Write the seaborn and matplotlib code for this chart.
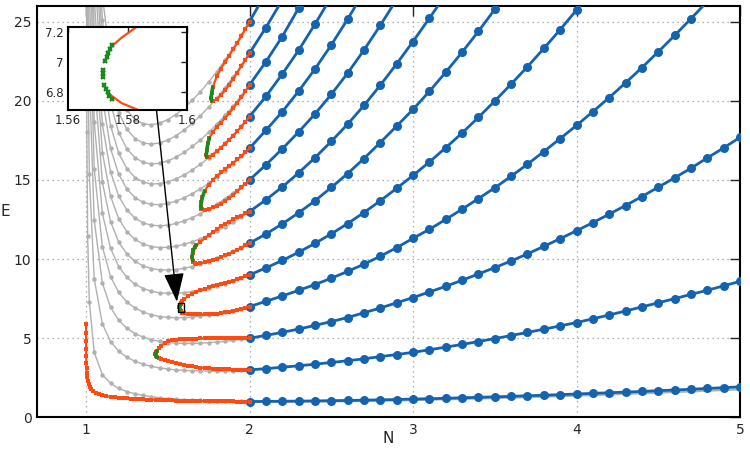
import numpy as np
import pandas as pd
import matplotlib
matplotlib.use("Agg")
import matplotlib.pyplot as plt
import seaborn as sns
from matplotlib.patches import Rectangle

# ---------------- values ----------------
# real spectrum for N >= 2 (step 0.1)
N_real = [2.0, 2.1, 2.2, 2.3, 2.4, 2.5, 2.6, 2.7, 2.8, 2.9, 3.0,
          3.1, 3.2, 3.3, 3.4, 3.5, 3.6, 3.7, 3.8, 3.9, 4.0,
          4.1, 4.2, 4.3, 4.4, 4.5, 4.6, 4.7, 4.8, 4.9, 5.0]

E_real_0 = [1.00, 1.01, 1.02, 1.03, 1.04, 1.06, 1.07, 1.09, 1.11, 1.13, 1.16,
            1.18, 1.21, 1.24, 1.27, 1.30, 1.33, 1.37, 1.40, 1.44, 1.48,
            1.52, 1.56, 1.60, 1.64, 1.69, 1.73, 1.78, 1.83, 1.88, 1.93]
E_real_1 = [3.00, 3.08, 3.17, 3.26, 3.36, 3.47, 3.58, 3.70, 3.84, 3.97, 4.11,
            4.27, 4.44, 4.61, 4.79, 4.98, 5.17, 5.37, 5.57, 5.78, 5.99,
            6.23, 6.47, 6.72, 6.98, 7.24, 7.50, 7.77, 8.03, 8.31, 8.59]
E_real_2 = [5.00, 5.18, 5.37, 5.58, 5.81, 6.05, 6.31, 6.61, 6.91, 7.24, 7.57,
            7.92, 8.28, 8.66, 9.06, 9.46, 9.88, 10.33, 10.80, 11.29, 11.79,
            12.30, 12.84, 13.38, 13.95, 14.54, 15.13, 15.74, 16.39, 17.02, 17.69]
E_real_3 = [7.00, 7.33, 7.67, 8.02, 8.39, 8.79, 9.22, 9.68, 10.18, 10.72, 11.31,
            11.88, 12.50, 13.15, 13.82, 14.50, 15.23, 15.99, 16.79, 17.61, 18.44,
            19.31, 20.20, 21.13, 22.09, 23.09, 24.12, 25.18, 26.27]
E_real_4 = [9.00, 9.44, 9.91, 10.43, 10.99, 11.59, 12.24, 12.94, 13.68, 14.47, 15.28,
            16.13, 17.03, 17.96, 18.95, 19.98, 21.05, 22.15, 23.30, 24.49, 25.73, 26.99]
E_real_5 = [11.00, 11.58, 12.22, 12.92, 13.68, 14.52, 15.40, 16.35, 17.36, 18.40, 19.45,
            20.59, 21.80, 23.06, 24.38, 25.77, 27.20]
E_real_6 = [13.00, 13.74, 14.55, 15.44, 16.40, 17.43, 18.52, 19.70, 20.98, 22.33, 23.74,
            25.21, 26.70]
E_real_7 = [15.00, 15.95, 16.96, 18.02, 19.16, 20.40, 21.74, 23.20, 24.76, 26.40]
E_real_8 = [17.00, 18.13, 19.30, 20.60, 22.00, 23.52, 25.15, 26.87]
E_real_9 = [19.00, 20.27, 21.68, 23.18, 24.83, 26.55]
E_real_10 = [21.00, 22.46, 24.05, 25.84, 27.70]
E_real_11 = [23.00, 24.62, 26.35]
E_real_12 = [25.00, 26.80]

# grey approximate levels (plotted for N < 2, plus the lowest one for N > 2)
N_approx = [1.002, 1.005, 1.01, 1.02, 1.05, 1.1, 1.15, 1.2, 1.25, 1.3, 1.35, 1.4,
            1.45, 1.5, 1.55, 1.6, 1.65, 1.7, 1.75, 1.8, 1.85, 1.9, 1.95, 2.0]
E_approx_0 = [32.9, 18.0, 11.44, 7.32, 4.11, 2.71, 2.15, 1.83, 1.63, 1.49, 1.39, 1.31,
              1.24, 1.19, 1.15, 1.12, 1.09, 1.07, 1.05, 1.04, 1.02, 1.01, 1.01, 1.00]
E_approx_1 = [37.5, 23.9, 15.37, 8.76, 5.91, 4.79, 4.18, 3.80, 3.54, 3.36, 3.22,
              3.13, 3.06, 3.00, 2.97, 2.95, 2.93, 2.93, 2.93, 2.94, 2.96, 2.98, 3.00]
E_approx_2 = [33.7, 21.70, 12.46, 8.49, 6.95, 6.13, 5.63, 5.29, 5.07, 4.91,
              4.80, 4.73, 4.69, 4.67, 4.67, 4.69, 4.72, 4.76, 4.80, 4.86, 4.93, 5.00]
E_approx_3 = [27.24, 15.71, 10.78, 8.89, 7.89, 7.29, 6.90, 6.65, 6.48, 6.37,
              6.32, 6.30, 6.30, 6.34, 6.39, 6.46, 6.54, 6.64, 6.75, 6.87, 7.00]
E_approx_4 = [32.3, 18.67, 12.88, 10.68, 9.53, 8.84, 8.41, 8.14, 7.97, 7.87,
              7.84, 7.84, 7.88, 7.95, 8.05, 8.16, 8.30, 8.45, 8.62, 8.80, 9.00]
E_approx_5 = [37.0, 21.44, 14.86, 12.36, 11.07, 10.32, 9.85, 9.57, 9.40, 9.32,
              9.31, 9.34, 9.42, 9.53, 9.68, 9.84, 10.04, 10.25, 10.48, 10.73, 11.00]
E_approx_6 = [41.4, 24.05, 16.73, 13.97, 12.55, 11.73, 11.24, 10.94, 10.79, 10.73,
              10.74, 10.81, 10.93, 11.09, 11.28, 11.51, 11.76, 12.03, 12.33, 12.66, 13.00]
E_approx_7 = [26.54, 18.51, 15.51, 13.97, 13.10, 12.58, 12.28, 12.14, 12.10, 12.14,
              12.25, 12.41, 12.62, 12.87, 13.15, 13.46, 13.81, 14.18, 14.58, 15.00]
E_approx_8 = [28.93, 20.23, 16.99, 15.35, 14.42, 13.88, 13.58, 13.45, 13.44, 13.51,
              13.66, 13.87, 14.13, 14.43, 14.78, 15.16, 15.57, 16.02, 16.49, 17.00]
E_approx_9 = [31.23, 21.90, 18.43, 16.68, 15.71, 15.15, 14.86, 14.74, 14.76, 14.87,
              15.06, 15.31, 15.63, 15.99, 16.39, 16.84, 17.33, 17.85, 18.41, 19.00]
E_approx_10 = [33.46, 23.51, 19.83, 17.98, 16.96, 16.40, 16.11, 16.01, 16.05, 16.20,
               16.43, 16.74, 17.11, 17.53, 18.00, 18.52, 19.08, 19.68, 20.32, 21.00]
E_approx_11 = [35.63, 25.08, 21.19, 19.25, 18.19, 17.61, 17.33, 17.26, 17.33, 17.51,
               17.79, 18.15, 18.57, 19.06, 19.59, 20.18, 20.82, 21.50, 22.23, 23.00]
E_approx_12 = [26.60, 22.52, 20.50, 19.40, 18.81, 18.54, 18.48, 18.58, 18.81, 19.13,
               19.54, 20.03, 20.57, 21.18, 21.84, 22.56, 23.32, 24.14, 25.00]
N_approx_hi = [2.0, 2.5, 3.0, 3.5, 4.0, 4.5, 5.0]
E_approx_0_hi = [1.00, 1.011, 1.094, 1.221, 1.377, 1.561, 1.771]

# ground state below N = 2
N_ground = [2.0, 1.975, 1.95, 1.925, 1.9, 1.875, 1.85, 1.825, 1.8, 1.775, 1.75, 1.725,
            1.7, 1.675, 1.65, 1.625, 1.6, 1.575, 1.55, 1.525, 1.5, 1.475, 1.45, 1.425,
            1.4, 1.375, 1.35, 1.325, 1.3, 1.275, 1.25, 1.225, 1.2, 1.175, 1.15, 1.125,
            1.1, 1.08, 1.06, 1.045, 1.033, 1.023, 1.016, 1.011, 1.007, 1.005, 1.003,
            1.002, 1.0013, 1.0008, 1.0005, 1.0003, 1.0002]
E_ground = [1.00, 1.00, 1.00, 1.00, 1.01, 1.01, 1.01, 1.01, 1.02, 1.02, 1.02, 1.03,
            1.03, 1.04, 1.04, 1.05, 1.05, 1.06, 1.06, 1.07, 1.08, 1.09, 1.10, 1.11,
            1.12, 1.13, 1.14, 1.15, 1.17, 1.18, 1.20, 1.22, 1.24, 1.27, 1.30, 1.34,
            1.40, 1.47, 1.57, 1.68, 1.80, 1.95, 2.12, 2.32, 2.55, 2.80, 3.10,
            3.45, 3.85, 4.30, 4.80, 5.35, 5.90]

# pairs of levels that merge for N < 2: lower branch (N=2 -> tip), upper (tip -> N=2)
N_A_lo = [2.0, 1.975, 1.95, 1.925, 1.9, 1.875, 1.85, 1.825, 1.8, 1.775, 1.75, 1.725, 1.7,
          1.675, 1.65, 1.625, 1.6, 1.575, 1.55, 1.525, 1.5, 1.48, 1.46, 1.445, 1.435,
          1.428, 1.424]
E_A_lo = [3.00, 3.00, 3.01, 3.01, 3.02, 3.03, 3.04, 3.05, 3.07, 3.08, 3.10, 3.12, 3.15,
          3.18, 3.22, 3.26, 3.31, 3.36, 3.42, 3.48, 3.54, 3.60, 3.67, 3.74, 3.80,
          3.87, 3.98]
N_A_up = [1.428, 1.435, 1.445, 1.46, 1.48, 1.5, 1.525, 1.55, 1.575, 1.6, 1.625, 1.65, 1.675,
          1.7, 1.725, 1.75, 1.775, 1.8, 1.825, 1.85, 1.875, 1.9, 1.925, 1.95, 1.975, 2.0]
E_A_up = [4.10, 4.22, 4.37, 4.54, 4.70, 4.80, 4.87, 4.91, 4.94, 4.96, 4.97, 4.98, 4.98,
          4.99, 4.99, 4.99, 4.99, 5.00, 5.00, 5.00, 5.00, 5.00, 5.00, 5.00, 5.00, 5.00]

N_B_lo = [2.0, 1.975, 1.95, 1.925, 1.9, 1.875, 1.85, 1.825, 1.8, 1.775, 1.75, 1.725, 1.7,
          1.675, 1.65, 1.625, 1.6, 1.59, 1.583, 1.578, 1.5745, 1.5716]
E_B_lo = [7.00, 6.93, 6.86, 6.80, 6.74, 6.68, 6.63, 6.59, 6.56, 6.53, 6.51, 6.50, 6.50,
          6.50, 6.51, 6.53, 6.58, 6.62, 6.69, 6.73, 6.78, 6.99]
N_B_up = [1.5745, 1.578, 1.583, 1.59, 1.6, 1.625, 1.65, 1.675, 1.7, 1.725, 1.75, 1.775,
          1.8, 1.825, 1.85, 1.875, 1.9, 1.925, 1.95, 1.975, 2.0]
E_B_up = [7.10, 7.16, 7.23, 7.33, 7.47, 7.67, 7.82, 7.93, 8.03, 8.12, 8.21, 8.30,
          8.38, 8.45, 8.52, 8.58, 8.64, 8.72, 8.81, 8.90, 9.00]

N_C_lo = [2.0, 1.975, 1.95, 1.925, 1.9, 1.875, 1.85, 1.825, 1.8, 1.775, 1.75, 1.725, 1.7,
          1.675, 1.665, 1.657, 1.652, 1.649]
E_C_lo = [11.00, 10.86, 10.72, 10.59, 10.47, 10.35, 10.24, 10.13, 10.03, 9.94, 9.86, 9.79,
          9.74, 9.72, 9.74, 9.80, 9.90, 10.13]
N_C_up = [1.652, 1.657, 1.665, 1.675, 1.7, 1.725, 1.75, 1.775, 1.8, 1.825, 1.85, 1.875,
          1.9, 1.925, 1.95, 1.975, 2.0]
E_C_up = [10.40, 10.58, 10.75, 10.88, 11.10, 11.30, 11.50, 11.69, 11.88, 12.06, 12.24,
          12.37, 12.50, 12.63, 12.75, 12.88, 13.00]

N_D_lo = [2.0, 1.975, 1.95, 1.925, 1.9, 1.875, 1.85, 1.825, 1.8, 1.775, 1.75, 1.725,
          1.712, 1.705, 1.701]
E_D_lo = [15.00, 14.76, 14.52, 14.28, 14.05, 13.84, 13.66, 13.50, 13.37, 13.26, 13.18,
          13.13, 13.14, 13.19, 13.30]
N_D_up = [1.705, 1.712, 1.725, 1.75, 1.775, 1.8, 1.825, 1.85, 1.875, 1.9, 1.925, 1.95,
          1.975, 2.0]
E_D_up = [13.60, 13.90, 14.30, 14.70, 15.00, 15.25, 15.47, 15.68, 15.88, 16.08, 16.29,
          16.51, 16.75, 17.00]

N_E_lo = [2.0, 1.975, 1.95, 1.925, 1.9, 1.875, 1.85, 1.825, 1.8, 1.775, 1.75, 1.745,
          1.739, 1.736]
E_E_lo = [19.00, 18.68, 18.37, 18.07, 17.78, 17.52, 17.27, 17.03, 16.80, 16.60, 16.47,
          16.45, 16.45, 16.55]
N_E_up = [1.739, 1.745, 1.755, 1.775, 1.8, 1.825, 1.85, 1.875, 1.9, 1.925, 1.95, 1.975, 2.0]
E_E_up = [16.90, 17.30, 17.65, 18.00, 18.35, 18.62, 18.90, 19.20, 19.52, 19.87, 20.22,
          20.60, 21.00]

N_F_lo = [2.0, 1.975, 1.95, 1.925, 1.9, 1.875, 1.85, 1.825, 1.8, 1.775, 1.769, 1.764]
E_F_lo = [23.00, 22.59, 22.18, 21.78, 21.38, 21.00, 20.65, 20.35, 20.10, 19.98, 19.98, 20.15]
N_F_up = [1.769, 1.775, 1.8, 1.825, 1.85, 1.875, 1.9, 1.925, 1.95, 1.975, 2.0]
E_F_up = [20.50, 20.85, 21.55, 22.03, 22.45, 22.85, 23.25, 23.65, 24.08, 24.53, 25.00]

# green pieces around the turning points
N_tip_A = [1.435, 1.428, 1.424, 1.428, 1.435]
E_tip_A = [3.80, 3.87, 3.98, 4.10, 4.22]
N_tip_B = [1.5745, 1.5716, 1.5745]
E_tip_B = [6.78, 6.99, 7.10]
N_tip_C = [1.652, 1.649, 1.652, 1.657, 1.665, 1.675]
E_tip_C = [9.90, 10.13, 10.40, 10.58, 10.75, 10.88]
N_tip_D = [1.705, 1.701, 1.705, 1.712, 1.725]
E_tip_D = [13.19, 13.30, 13.60, 13.90, 14.30]
N_tip_E = [1.739, 1.736, 1.739, 1.745, 1.755]
E_tip_E = [16.45, 16.55, 16.90, 17.30, 17.65]
N_tip_F = [1.769, 1.764, 1.769, 1.775]
E_tip_F = [19.98, 20.15, 20.50, 20.85]

# inset: fine points around the second turning point
N_zoom = [1.57477, 1.57409, 1.57352, 1.57295, 1.57239, 1.57182, 1.57170, 1.57170,
          1.57216, 1.57273, 1.57330, 1.57386, 1.57477]
E_zoom = [7.113, 7.085, 7.059, 7.033, 7.004, 6.950, 6.928, 6.902,
          6.852, 6.826, 6.802, 6.780, 6.759]

BLUE = "#1463b0"
ORANGE = "#ff4a14"
GREEN = "#1a8a1a"
GRAY = "#b0b0b0"

# ---------------- tables ----------------
real_levels = [E_real_0, E_real_1, E_real_2, E_real_3, E_real_4, E_real_5, E_real_6,
               E_real_7, E_real_8, E_real_9, E_real_10, E_real_11, E_real_12]
real_df = pd.concat([pd.DataFrame({"N": N_real[:len(e)], "E": e, "level": i})
                     for i, e in enumerate(real_levels)], ignore_index=True)

approx_levels = [E_approx_0, E_approx_1, E_approx_2, E_approx_3, E_approx_4, E_approx_5,
                 E_approx_6, E_approx_7, E_approx_8, E_approx_9, E_approx_10,
                 E_approx_11, E_approx_12]
approx_df = pd.concat([pd.DataFrame({"N": N_approx[-len(e):], "E": e, "level": i})
                       for i, e in enumerate(approx_levels)], ignore_index=True)

loops = {
    "g": (N_ground, E_ground),
    "A": (N_A_lo + N_A_up, E_A_lo + E_A_up),
    "B": (N_B_lo + N_B_up, E_B_lo + E_B_up),
    "C": (N_C_lo + N_C_up, E_C_lo + E_C_up),
    "D": (N_D_lo + N_D_up, E_D_lo + E_D_up),
    "E": (N_E_lo + N_E_up, E_E_lo + E_E_up),
    "F": (N_F_lo + N_F_up, E_F_lo + E_F_up),
}
loop_df = pd.concat([pd.DataFrame({"N": n, "E": e, "loop": k})
                     for k, (n, e) in loops.items()], ignore_index=True)

tips = {"A": (N_tip_A, E_tip_A), "B": (N_tip_B, E_tip_B), "C": (N_tip_C, E_tip_C),
        "D": (N_tip_D, E_tip_D), "E": (N_tip_E, E_tip_E), "F": (N_tip_F, E_tip_F)}
tip_df = pd.concat([pd.DataFrame({"N": n, "E": e, "loop": k})
                    for k, (n, e) in tips.items()], ignore_index=True)

# ---------------- plot ----------------
sns.set_style("white")
plt.rcParams["font.family"] = ["DejaVu Sans"]
plt.rcParams["xtick.direction"] = "in"
plt.rcParams["ytick.direction"] = "in"

fig = plt.figure(figsize=(7.5, 4.5), dpi=100)
ax = fig.add_axes([0.0493, 0.0724, 0.9374, 0.9149])

sns.lineplot(data=approx_df, x="N", y="E", units="level", estimator=None, sort=False,
             color=GRAY, lw=1.0, marker="o", ms=3.2, mec=GRAY, mew=0, ax=ax, zorder=2)
sns.lineplot(x=N_approx_hi, y=E_approx_0_hi, color=GRAY, lw=1.6, ax=ax, zorder=2)
sns.lineplot(data=real_df, x="N", y="E", units="level", estimator=None, sort=False,
             color=BLUE, lw=2, marker="o", ms=6.5, mec=BLUE, mew=0, ax=ax, zorder=3)
sns.lineplot(data=loop_df, x="N", y="E", units="loop", estimator=None, sort=False,
             color=ORANGE, lw=1.6, marker="s", ms=2.6, mec=ORANGE, mew=0, ax=ax, zorder=4)
sns.lineplot(data=tip_df, x="N", y="E", units="loop", estimator=None, sort=False,
             color=GREEN, lw=2.6, ax=ax, zorder=5)

ax.set_xlim(0.7, 5)
ax.set_ylim(0, 26)
ax.set_xticks([1, 2, 3, 4, 5])
ax.set_yticks([0, 5, 10, 15, 20, 25])
ax.grid(True, ls=(0, (1, 3)), color="#999999", lw=0.9)
ax.tick_params(which="both", top=True, right=True, length=7, width=1,
               labelsize=10, pad=4)
for s in ax.spines.values():
    s.set_linewidth(1.5)
    s.set_color("black")
ax.set_xlabel("N", fontsize=11)
ax.xaxis.set_label_coords(0.5, -0.032)
ax.set_ylabel("E", fontsize=11, rotation=0, ha="center", va="center")
ax.yaxis.set_label_coords(-0.045, 0.5)

# box marking the zoomed region + arrow
ax.add_patch(Rectangle((1.56, 6.685), 0.04, 0.545, fill=False, ec="black", lw=1, zorder=6))
ax.annotate("", xy=(1.556, 7.3), xytext=(1.43, 19.5),
            arrowprops=dict(arrowstyle="-|>,head_length=1.0,head_width=0.35",
                            color="black", lw=1, mutation_scale=18, shrinkA=0, shrinkB=0),
            zorder=6)

# inset
axi = fig.add_axes([0.0907, 0.7556, 0.1587, 0.1844])
axi.set_facecolor("white")
axi.plot(N_B_up, E_B_up, color=ORANGE, lw=1.6)
axi.plot(N_B_lo[:-1], E_B_lo[:-1], color=ORANGE, lw=1.6)
axi.plot(N_zoom, E_zoom, ls="none", marker="x", ms=3.5, mew=1.6, color=GREEN)
axi.set_xlim(1.56, 1.60)
axi.set_ylim(6.685, 7.23)
axi.set_xticks([1.56, 1.58, 1.6])
axi.set_xticklabels(["1.56", "1.58", "1.6"])
axi.set_yticks([6.8, 7.0, 7.2])
axi.set_yticklabels(["6.8", "7", "7.2"])
axi.tick_params(which="both", top=True, right=True, length=4, width=1,
                labelsize=8.5, pad=3)
for s in axi.spines.values():
    s.set_linewidth(1.5)
    s.set_color("black")

fig.savefig("out.png", dpi=100)
